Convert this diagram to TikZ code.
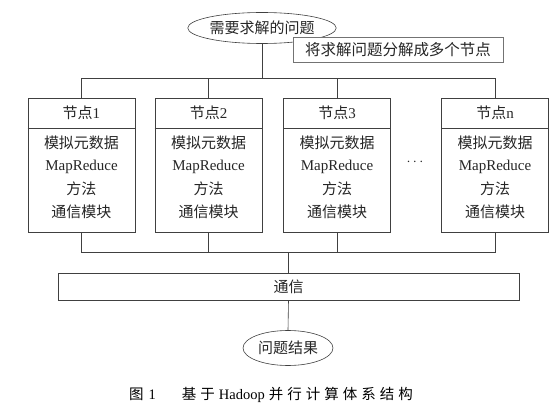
\documentclass[tikz,border=0pt]{standalone}
\usepackage{fontspec}
\setmainfont{Liberation Serif}
\newfontfamily\cjk{Noto Sans CJK SC}
\usetikzlibrary{shapes.geometric}
\newcommand{\capsp}{\hspace{4pt}}
\tikzset{
  ln/.style={draw=black!75, line width=0.6pt},
  nodebox/.style={ln, rectangle, minimum width=107pt, minimum height=134pt, inner sep=0pt},
  txt/.style={inner sep=0pt, font=\fontsize{15}{18}\selectfont, text=black!85},
  oval/.style={ln, ellipse, inner sep=0pt, font=\fontsize{15}{18}\selectfont, text=black!85},
}
\begin{document}
\begin{tikzpicture}[x=1pt,y=-1pt]
\useasboundingbox (0,0) rectangle (558,420);
\fill[white] (0,0) rectangle (558,420);
% top question
\node[oval, minimum width=145pt, minimum height=31pt] (q) at (262,28) {\cjk 需要求解的问题};
\coordinate (bt) at (0,78);
\coordinate (bb) at (0,252);
\draw[ln] (q.south) -- (q.south |- bt);
% label box
\node[ln, fill=white, draw=black!55, rectangle, minimum width=210pt, minimum height=25pt, inner sep=0pt, font=\fontsize{15.5}{18}\selectfont, text=black!85] (split) at (398,49.5) {\cjk 将求解问题分解成多个节点};
% node boxes
\foreach \i/\x/\lab in {1/81.5/1, 2/208.5/2, 3/337/3, 4/495/n} {
  \node[nodebox] (n\i) at (\x,165) {};
  \draw[ln] ([yshift=-31pt]n\i.north west) -- ([yshift=-31pt]n\i.north east);
  \node[txt] (h\i) at (\x,113) {{\cjk 节点}\lab};
  \node[txt] (a\i) at (\x,143) {\cjk 模拟元数据};
  \node[txt] (b\i) at (\x,166.5) {MapReduce};
  \node[txt] (c\i) at (\x,189) {\cjk 方法};
  \node[txt] (d\i) at (\x,212) {\cjk 通信模块};
}
\node[txt] (dots) at (415,162) {$\cdots$};
% top bus
\draw[ln] (n1.north) -- (n1.north |- bt) -- (n4.north |- bt) -- (n4.north);
\draw[ln] (n2.north) -- (n2.north |- bt);
\draw[ln] (n3.north) -- (n3.north |- bt);
% communication
\node[ln, rectangle, minimum width=461pt, minimum height=27pt, inner sep=0pt, font=\fontsize{15}{18}\selectfont, text=black!85] (comm) at (288.5,286.5) {\cjk 通信};
\draw[ln] (n1.south) -- (n1.south |- bb) -- (n4.south |- bb) -- (n4.south);
\draw[ln] (n2.south) -- (n2.south |- bb);
\draw[ln] (n3.south) -- (n3.south |- bb);
\draw[ln] (comm.north) -- (comm.north |- bb);
% result
\node[oval, minimum width=90pt, minimum height=35pt] (res) at (288,348) {\cjk 问题结果};
\draw[ln] (comm.south) -- (res.north);
% caption
\node[inner sep=0pt, font=\fontsize{14.5}{18}\selectfont] (cap) at (271,395) {{\cjk 图}\hspace{5pt}1\hspace{26pt}{\cjk 基\capsp 于}\hspace{4pt}Hadoop\hspace{4pt}{\cjk 并\capsp 行\capsp 计\capsp 算\capsp 体\capsp 系\capsp 结\capsp 构}};
\end{tikzpicture}
\end{document}
